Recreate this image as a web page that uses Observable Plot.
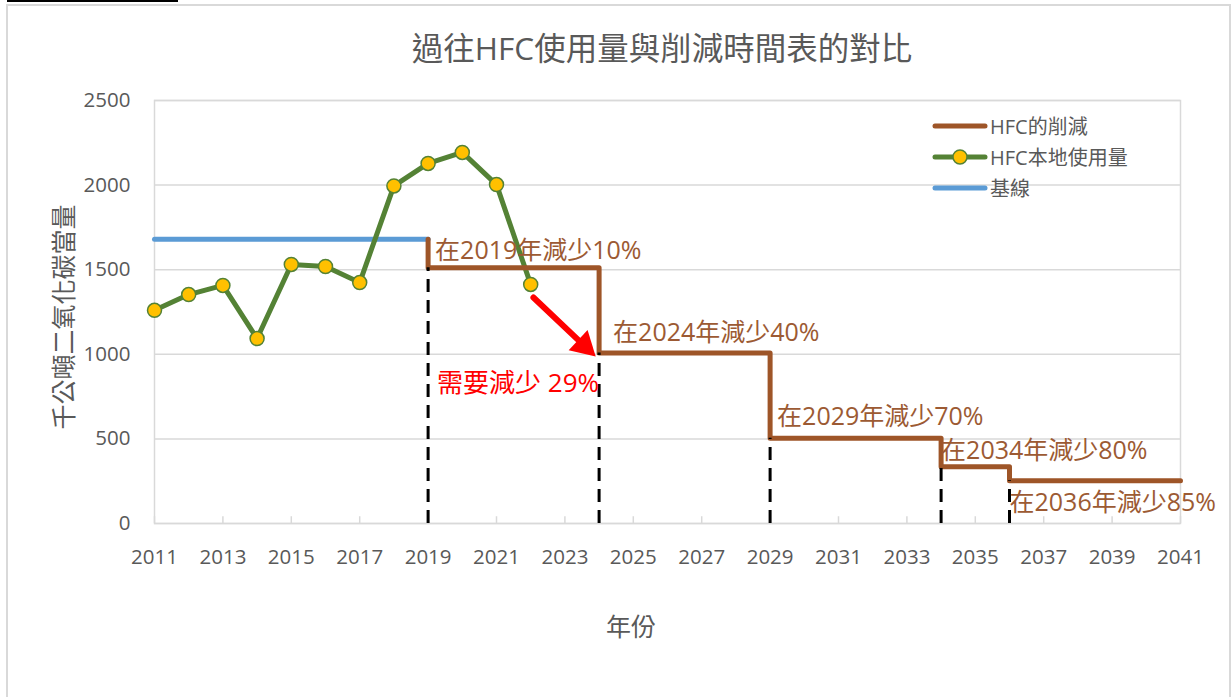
<!DOCTYPE html>
<html>
<head>
<meta charset="utf-8">
<script src="https://cdn.jsdelivr.net/npm/d3@7"></script>
<script src="https://cdn.jsdelivr.net/npm/@observablehq/plot@0.6"></script>
<style>
  body { margin: 0; background: #fff; }
  #wrap { position: relative; width: 1231px; height: 697px; overflow: hidden;
          font-family: "Open Sans", "Noto Sans CJK TC", sans-serif; color: #595959; }
  #frame { position: absolute; left: 6px; top: 4px; width: 1225px; height: 760px;
           border: 2px solid #d9d9d9; box-sizing: border-box; }
  #blackline { position: absolute; left: 7px; top: 0; width: 171px; height: 2px; background: #000; }
  #chart { position: absolute; left: 0; top: 0; }
  #title { position: absolute; left: 662px; top: 28px; transform: translateX(-50%);
           font-size: 31.5px; line-height: 40px; white-space: nowrap; }
  #ylabel { position: absolute; left: 62px; top: 317px; font-size: 25px; white-space: nowrap;
            transform: translate(-50%, -50%) rotate(-90deg); }
  #xlabel { position: absolute; left: 631px; top: 625px; font-size: 25px; white-space: nowrap;
            transform: translate(-50%, -50%); }
  #legend { position: absolute; left: 932px; top: 110px; font-size: 20px; }
  .row { display: flex; align-items: center; height: 31px; }
  .row svg { display: block; margin-right: 2px; }
</style>
</head>
<body>
<div id="wrap">
  <div id="frame"></div>
  <div id="blackline"></div>
  <div id="chart"></div>
  <div id="title"></div>
  <div id="ylabel"></div>
  <div id="xlabel"></div>
  <div id="legend"></div>
</div>
<script>
// ---------- data ----------
const titleText = "過往HFC使用量與削減時間表的對比";
const yLabelText = "千公噸二氧化碳當量";
const xLabelText = "年份";

const usageYears = [2011, 2012, 2013, 2014, 2015, 2016, 2017, 2018, 2019, 2020, 2021, 2022];
const usageValues = [1260, 1353, 1407, 1093, 1531, 1519, 1424, 1995, 2128, 2193, 2003, 1413];

const baselineYears = [2011, 2019];
const baselineValues = [1680, 1680];

const stepYears = [2019, 2019, 2024, 2029, 2034, 2036, 2041];
const stepValues = [1680, 1512, 1008, 504, 336, 252, 252];

const cutYears = [2019, 2024, 2029, 2034, 2036];
const cutValues = [1512, 1008, 504, 336, 252];
const cutPercents = [10, 40, 70, 80, 85];

const gapText = "需要減少 29%";
const arrowFrom = [2022.08, 1336];
const arrowTo = [2023.9, 987];

const xTicks = [2011, 2013, 2015, 2017, 2019, 2021, 2023, 2025, 2027, 2029, 2031, 2033, 2035, 2037, 2039, 2041];
const yTicks = [0, 500, 1000, 1500, 2000, 2500];

const legendLabels = ["HFC的削減", "HFC本地使用量", "基線"];

// ---------- styles ----------
const FONT = '"Open Sans", "Noto Sans CJK TC", sans-serif';
const BROWN = "#9E5528";
const BROWN_TEXT = "#9C5A33";
const GREEN = "#548235";
const GOLD = "#FFC000";
const BLUE = "#5B9BD5";
const GRID = "#d9d9d9";
const labelDx = [7, 14, 7, 0, 0];
const labelDy = [-17, -20, -21, -16, 22];

// ---------- tables ----------
const usage = usageYears.map((year, i) => ({year, value: usageValues[i]}));
const baseline = baselineYears.map((year, i) => ({year, value: baselineValues[i]}));
const steps = stepYears.map((year, i) => ({year, value: stepValues[i]}));
const cuts = cutYears.map((year, i) => ({year, value: cutValues[i], label: `在${year}年減少${cutPercents[i]}%`}));

const chart = Plot.plot({
  width: 1231,
  height: 697,
  marginLeft: 154,
  marginRight: 51,
  marginTop: 100,
  marginBottom: 174,
  x: {domain: [2011, 2041], label: null},
  y: {domain: [0, 2500], label: null},
  style: {fontFamily: FONT, fontSize: "20px", color: "#595959", background: "transparent", overflow: "visible"},
  marks: [
    Plot.ruleY(yTicks, {stroke: GRID, strokeWidth: 1.5}),
    Plot.frame({stroke: GRID, strokeWidth: 1.5}),
    Plot.ruleX(xTicks, {y1: 0, y2: 40, stroke: GRID, strokeWidth: 1.5}),
    Plot.axisX(xTicks, {tickSize: 0, tickPadding: 26, tickFormat: "d", fontSize: 20.5, fill: "#595959"}),
    Plot.axisY(yTicks, {tickSize: 0, tickPadding: 24, tickFormat: "d", fontSize: 20.5, fill: "#595959"}),
    Plot.line(baseline, {x: "year", y: "value", stroke: BLUE, strokeWidth: 5}),
    Plot.line(usage, {x: "year", y: "value", stroke: GREEN, strokeWidth: 5, strokeLinejoin: "round"}),
    Plot.dot(usage, {x: "year", y: "value", r: 7, fill: GOLD, stroke: GREEN, strokeWidth: 1.5}),
    Plot.line(steps, {x: "year", y: "value", curve: "step-after", stroke: BROWN, strokeWidth: 5, strokeLinejoin: "round"}),
    Plot.ruleX(cuts, {x: "year", y1: 0, y2: "value", stroke: "#000", strokeWidth: 3, strokeDasharray: "13 8"}),
    ...cuts.map((d, i) => Plot.text([d], {x: "year", y: "value", text: "label", textAnchor: "start",
      dx: labelDx[i], dy: labelDy[i], fill: BROWN_TEXT, fontSize: 25})),
    Plot.arrow([{x1: arrowFrom[0], y1: arrowFrom[1], x2: arrowTo[0], y2: arrowTo[1]}],
      {x1: "x1", y1: "y1", x2: "x2", y2: "y2", stroke: "#FF0000", strokeWidth: 6, headLength: 0, insetEnd: 14}),
    Plot.dot([{x: arrowTo[0], y: arrowTo[1]}], {x: "x", y: "y", symbol: "triangle", r: 10.3, fill: "#FF0000",
      stroke: "none", rotate: 133, dx: -11.7, dy: -10.9}),
    Plot.text([{x: cutYears[1], y: cutValues[1]}], {x: "x", y: "y", text: () => gapText, textAnchor: "end",
      dy: 31, fill: "#FF0000", fontSize: 26})
  ]
});
document.getElementById("chart").appendChild(chart);

document.getElementById("title").textContent = titleText;
document.getElementById("ylabel").textContent = yLabelText;
document.getElementById("xlabel").textContent = xLabelText;

// legend
const legend = document.getElementById("legend");
const swatches = [
  `<svg width="56" height="20"><line x1="3" y1="10" x2="53" y2="10" stroke="${BROWN}" stroke-width="5" stroke-linecap="round"/></svg>`,
  `<svg width="56" height="20"><line x1="3" y1="10" x2="53" y2="10" stroke="${GREEN}" stroke-width="5" stroke-linecap="round"/><circle cx="28" cy="10" r="7" fill="${GOLD}" stroke="${GREEN}" stroke-width="1.5"/></svg>`,
  `<svg width="56" height="20"><line x1="3" y1="10" x2="53" y2="10" stroke="${BLUE}" stroke-width="5" stroke-linecap="round"/></svg>`
];
legendLabels.forEach((t, i) => {
  const row = document.createElement("div");
  row.className = "row";
  row.innerHTML = swatches[i] + `<span>${t}</span>`;
  legend.appendChild(row);
});
</script>
</body>
</html>
